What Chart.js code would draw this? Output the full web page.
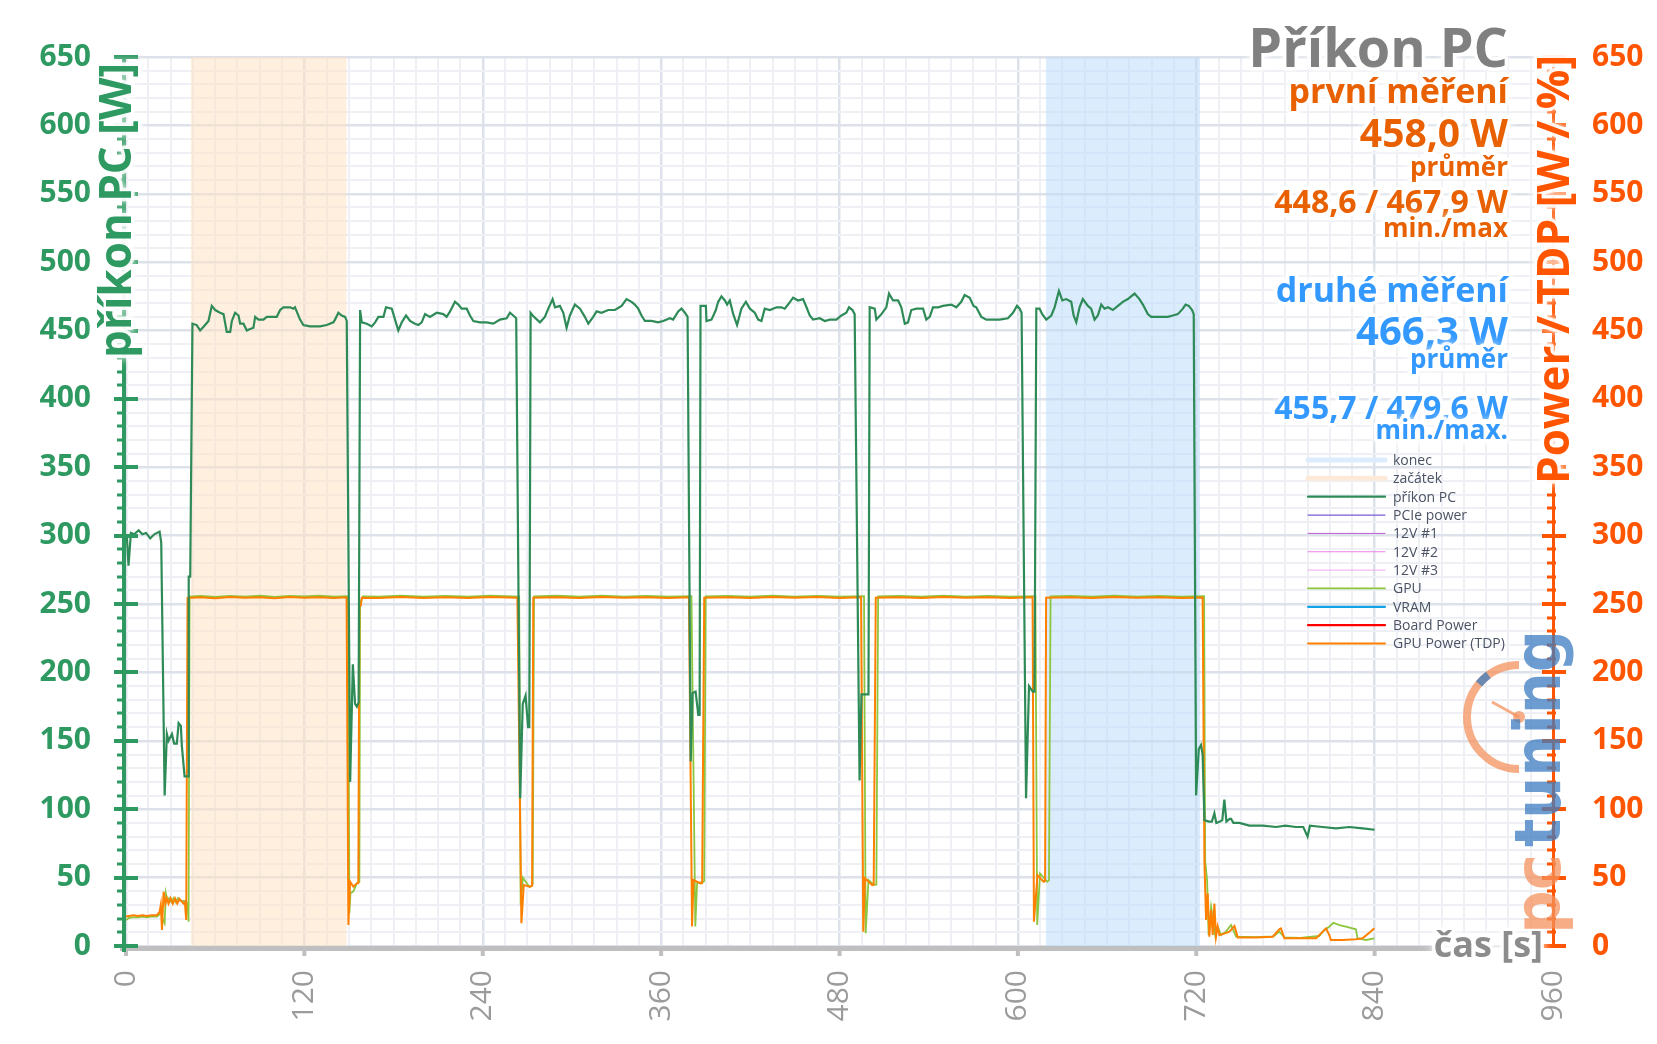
<!DOCTYPE html>
<html>
<head>
<meta charset="utf-8">
<title>Příkon PC</title>
<script src="https://cdn.jsdelivr.net/npm/chart.js@4.4.1/dist/chart.umd.min.js"></script>
<style>
  html, body { margin: 0; padding: 0; background: #fff; }
  #wrap { width: 1657px; height: 1044px; }
</style>
</head>
<body>
<div id="wrap"><canvas id="chart" width="1657" height="1044"></canvas></div>
<script>
// [time s, watts]
const pcSeries = [
  [0,300],[0.6,299],[1.7,278],[3.3,302],[5.5,301],[8.5,304],[11,301],[13.5,302],[16.3,298],[19,301],[22.6,303],[23.7,295],
  [26,110],[27.5,155],[28.6,150],[30.9,155],[32.4,148],[34.2,148],[35.4,163],[36.9,161],[37.6,146],[39.4,124],[40.5,124],[42.1,124],
  [42.2,270],[43.2,270],[44.7,455],[47.6,454],[49.9,450],[53.2,454],[55.5,457],[57.7,468],[60,465],[63.3,463],[65.6,462],
  [67.8,449],[70.1,449],[71.2,457],[73.4,463],[75.7,461],[76.8,455],[79,455],[81.3,450],[83.1,451],[85.7,452],[86.9,460],
  [89.1,458],[92.5,458],[94.7,460],[101.4,460],[103.7,465],[105.9,467],[110.4,467],[112.6,466],[113.7,467],[117.1,458],
  [119.3,454],[123.8,453],[130.6,453],[135,454],[139.5,456],[140.6,458],[142.9,463],[145.1,461],[147.4,460],[148.5,457],
  [150.8,120],[152.6,206],[154.1,177],[155.3,175],[156.5,178],[157.5,465],
  [158.6,456],[162,455],[165.3,453],[167.6,456],[169.8,460],[173.2,460],[174.9,467],[178.8,466],[181,458],[183.2,450],
  [185.5,456],[188.4,461],[191.1,457],[194.4,455],[196.7,454],[198.9,456],[201.2,462],[204.5,460],[209,463],[213.5,462],
  [215.7,460],[218,464],[221.3,471],[223.6,469],[225.8,466],[229.2,466],[231.4,461],[233.7,457],[238.1,456],[242.6,456],
  [247.1,455],[251.6,458],[256.1,459],[258.3,463],[260.5,461],[262.5,459],
  [265.2,108],[266.9,177],[268.8,183],[270.5,160],[271.3,160],[272.2,463],
  [274.4,460],[278.5,456],[281.8,460],[284.1,466],[287,473],[288.6,467],[291.9,468],[294.2,463],[296.4,452],[298.6,461],
  [302,469],[305.4,466],[308.7,460],[311,455],[314.3,460],[316.6,464],[319.9,463],[324.4,465],[328.9,465],[333.4,468],
  [336.7,473],[340.1,471],[342.3,469],[344.6,466],[346.8,461],[349.1,457],[353.5,457],[358,456],[361.4,457],[365.9,459],
  [368.1,458],[371.5,464],[373.7,466],[376,463],[377.8,460],
  [379.9,135],[381.2,185],[383.2,186],[385,169],[385.9,169],[386.5,468],
  [390.1,468],[390.5,457],[393.9,458],[396.8,465],[398.4,471],[400.6,475],[402.9,472],[404.4,469],[406.2,472],[408.5,462],
  [411.1,454],[414,466],[417,471],[419.7,466],[423,463],[425.3,458],[427.5,457],[429.7,466],[433.1,465],[435.3,466],
  [437.6,467],[440.9,467],[443.2,466],[445.4,469],[448.8,474],[452.1,472],[455.5,473],[457.8,467],[460,461],[462.2,458],
  [466.7,459],[470.1,457],[473.4,458],[477.9,458],[481.3,461],[484.6,463],[486.4,467],[488.7,465],[490.2,462],
  [493.5,121],[494.8,184],[499.5,184],[500.3,467],
  [503.7,466],[504.8,458],[508.2,462],[511.5,467],[513.3,477],[516,472],[519.4,472],[521.6,467],[523.9,455],[526.1,456],
  [528.3,465],[531.7,466],[536.2,466],[538.4,458],[540.7,460],[542.9,467],[546.3,467],[549.6,468],[555.2,469],[558.6,467],
  [561.9,471],[564.2,476],[567.6,474],[570.2,468],[572,467],[575.4,460],[578.8,458],[583.2,458],[587.7,458],[593.3,459],
  [596.7,463],[599.4,468],[601.2,466],[602.5,463],
  [605.5,108],[607.5,190],[610,186],[611.2,186],[612.4,466],
  [614.6,466],[616.4,462],[619.1,458],[622.5,461],[624.7,467],[627.6,479],[629.9,472],[632.5,473],[635.9,471],[637.5,461],
  [639.3,456],[641.5,467],[643.7,473],[647.1,468],[649.3,466],[651.6,458],[653.8,461],[656.1,469],[658.3,466],[660.6,467],
  [663.9,465],[667.3,468],[670.6,471],[674,473],[678.5,477],[681.8,473],[684.1,469],[687.4,462],[689.7,460],[695.3,460],
  [700.9,460],[704.3,461],[707.6,462],[711,466],[712.8,469],[715,468],[717.2,465],[718.3,462],
  [719.9,110],[721.7,144],[723.2,147],[724.3,140],[725.5,92],[728.5,91],[730.5,91],[732.2,97],[733.5,90],[736,91],
  [737.5,92],[738.9,107],[740.3,91],[742.5,93],[743.4,93],[745,90],[749,90],[755.7,88],[765,88],[773.7,87],
  [780,88],[787,87],[792,87],[794.9,80],[796.5,88],[805,87],[814,86],[823,87],[832,86],[840,85]
];

const gpuSeries = [
  [0,19],[2,20.5],[5,21],[8,21],[11,21.5],[14,21],[17,21.5],[20.8,21.5],[22.6,23],[23.5,27],[24.5,20],[26,16.6],
  [26.8,38.5],[27.8,33],[29,35],[30.5,32],[32,35],[33.5,32],[35,35],[36.5,33],[38.7,33],[40,33],[41.3,31],[42.1,17.8],
  [42.8,255.5],[50,256],[60,255.3],[70,256],[80,255.5],[90,256.1],[100,255.3],[110,256],[120,255.6],[130,256.1],[140,255.4],[149.4,255.8],
  [150.3,24],[151,38.5],[153,40],[155.3,46],[157,47],[157.5,250],[159.3,255.6],[170,255.4],[185,256.1],[200,255.4],
  [215,256],[230,255.5],[245,256.1],[264.5,255.5],
  [265.5,30],[267,50],[271.5,43],[273.6,45],[274.5,255.6],[290,256.1],[305,255.4],[320,256.1],[335,255.5],[350,256],[365,255.4],[380.4,255.8],
  [383,14.2],[384.2,45.8],[388.5,47],[389,47.5],[390,255.6],[405,256],[420,255.4],[435,256.1],[450,255.5],[465,256],[480,255.4],[496.5,255.8],
  [497.6,9.3],[499.5,48.2],[503.1,44.6],[504.8,45],[506,255.6],[520,256],[535,255.4],[550,256.1],[565,255.5],[580,256],[595,255.4],[611.8,255.8],
  [613,15.4],[614.9,53],[619.7,47],[620.9,48],[622,255.6],[635,256],[650,255.4],[665,256.1],[680,255.5],[695,256],[710,255.4],[725.3,255.8],
  [726,62],[727.3,48.2],[728.3,8],[730,28.7],[732.9,6.8],[734.4,14.1],[736.7,8],[740,10.5],[743.4,15.3],[746.8,6.8],
  [760,6.5],[772,7],[775.9,10.5],[779.3,6.3],[790,6],[802.7,7.3],[806.2,11.7],[809.5,14.1],[812.2,17],[816.3,15.3],
  [820.7,14.1],[827.4,12.2],[828.5,5.6],[834.2,4.4],[839.8,5.6]
];

const tdpSeries = [
  [0,21.5],[2,22],[5,22.5],[8,22],[11,22.5],[14,22],[17,22.5],[20.8,22.5],[22.6,25],[23.4,30],[24.2,11.7],[25.3,39.7],
  [26.5,31],[27.5,35],[28.6,31],[30,35],[31.5,31],[33,34.8],[34.5,31],[36,34.5],[38.7,31],[39.6,32],[40.5,19],
  [41.4,254.5],[50,255],[60,254.2],[70,255.1],[80,254.6],[90,255],[100,254.3],[110,255.2],[120,254.6],[130,255],[140,254.4],[148.4,255],
  [149.6,15.4],[150.8,47],[153,43.3],[155.3,45.8],[156.3,46],[157,249],[158,249],[158.6,254.7],[170,254.4],[185,255.2],
  [200,254.5],[215,255],[230,254.4],[245,255.1],[263.3,254.6],
  [266,16.6],[267.6,44.6],[271.7,43.4],[273.2,44],[274,254.6],[290,255],[305,254.4],[320,255.2],[335,254.6],[350,255],[365,254.5],[378.7,255],
  [380.8,14.2],[381.8,48.2],[386.6,45.8],[387.6,46],[389,254.7],[405,255],[420,254.4],[435,255.1],[450,254.6],[465,255.1],[480,254.5],[494.5,255],
  [496,10.5],[497.1,49.5],[502,44.6],[503,45],[504.4,254.6],[520,255],[535,254.5],[550,255.1],[565,254.6],[580,255],[595,254.4],[609.9,255],
  [610.8,17.8],[613.2,51.9],[617.3,47],[618.3,47.5],[619,254.6],[635,255],[650,254.4],[665,255.1],[680,254.6],[695,255],[710,254.5],[724.3,254.8],
  [725.5,62],[726.6,19],[727.7,38.5],[728.8,6.8],[730,26.3],[731.1,8],[732.2,31.1],[733.3,6.8],[734.4,14.1],[735.6,8],
  [737.8,8.7],[742.3,10.5],[745.7,14.6],[747.9,6.3],[760.2,6.3],[771.4,6.8],[775.9,12.2],[777,12.9],[779.3,5.6],[800.6,5.6],
  [803.9,9.2],[807.3,12.9],[809.5,8],[810.6,4.4],[818.5,4.4],[827.4,4.9],[831.9,5.6],[836.4,9.7],[839.8,12.9]
];

// highlighted intervals [from s, to s]
const startBand = [43.6, 148.5];
const endBand = [619, 722.5];

const xTicks = [0, 120, 240, 360, 480, 600, 720, 840, 960];
const powerTicks = [0, 50, 100, 150, 200, 250, 300, 350, 400, 450, 500, 550, 600, 650];

const legendNames = ['konec', 'začátek', 'příkon PC', 'PCIe power', '12V #1', '12V #2', '12V #3',
  'GPU', 'VRAM', 'Board Power', 'GPU Power (TDP)'];

const GREEN = '#2e9a62';
const ORANGE_AXIS = '#ff5500';
const ORANGE_TEXT = '#e86000';
const BLUE_TEXT = '#3399ff';

Chart.defaults.font.family = "'Open Sans', sans-serif";

const toPoints = s => s.map(p => ({ x: p[0], y: p[1] }));
const bandPoints = b => [{ x: b[0], y: 650 }, { x: b[1], y: 650 }];

function lineSet(label, data, color, width, order, axis) {
  return {
    label: label, data: data, borderColor: color, backgroundColor: color,
    borderWidth: width, pointRadius: 0, tension: 0, fill: false,
    order: order, yAxisID: axis || 'y', legendWidth: width
  };
}

const datasets = [
  { label: legendNames[0], data: bandPoints(endBand), borderWidth: 0, borderColor: '#ddecfc',
    backgroundColor: 'rgba(190,220,250,0.55)', fill: 'origin', pointRadius: 0, order: 30, legendWidth: 5 },
  { label: legendNames[1], data: bandPoints(startBand), borderWidth: 0, borderColor: '#fde9d8',
    backgroundColor: 'rgba(253,225,196,0.55)', fill: 'origin', pointRadius: 0, order: 30, legendWidth: 5 },
  lineSet(legendNames[2], toPoints(pcSeries), '#2e8b57', 2.2, 0),
  lineSet(legendNames[3], [], '#7b5bd6', 1.2, 5),
  lineSet(legendNames[4], [], '#c05ad6', 1, 5),
  lineSet(legendNames[5], [], '#ea80ea', 1, 5),
  lineSet(legendNames[6], [], '#f2a8f2', 1, 5),
  lineSet(legendNames[7], toPoints(gpuSeries), '#8cc63f', 1.8, 2, 'y2'),
  lineSet(legendNames[8], [], '#13a3e6', 2.2, 5),
  lineSet(legendNames[9], [], '#ff0000', 2.2, 5),
  lineSet(legendNames[10], toPoints(tdpSeries), '#ff8000', 2, 1, 'y2')
];

function gridColor(major) {
  return ctx => (ctx.tick && ctx.tick.value % major === 0) ? '#dde1e9' : '#eef0f5';
}
function gridWidth(major) {
  return ctx => (ctx.tick && ctx.tick.value % major === 0) ? 2.5 : 2;
}

function haloText(ctx, text, x, y) {
  ctx.save();
  ctx.lineJoin = 'round';
  ctx.strokeStyle = 'rgba(255,255,255,0.85)';
  ctx.lineWidth = 7;
  ctx.shadowColor = '#ffffff';
  ctx.shadowBlur = 10;
  ctx.strokeText(text, x, y);
  ctx.restore();
  ctx.fillText(text, x, y);
}

const decorations = {
  id: 'decorations',
  beforeDatasetsDraw(chart) {
    const ctx = chart.ctx, a = chart.chartArea, xs = chart.scales.x;
    ctx.save();
    ctx.fillStyle = '#bfbfbf';
    ctx.fillRect(a.left - 6, a.bottom, 1440 - a.left + 6, 5);
    xTicks.forEach(v => {
      const px = xs.getPixelForValue(v);
      if (px < 1440) ctx.fillRect(px - 2, a.bottom, 4, 10);
    });
    ctx.restore();
  },
  afterDatasetsDraw(chart) {
    const ctx = chart.ctx, a = chart.chartArea, ys = chart.scales.y;
    ctx.save();
    // left axis
    ctx.fillStyle = GREEN;
    ctx.fillRect(a.left - 4, a.top - 2, 4, a.bottom - a.top + 8);
    for (let v = 0; v <= 650; v += 10) {
      const py = Math.round(ys.getPixelForValue(v));
      if (v % 50 === 0) ctx.fillRect(a.left - 12, py - 2, 24, 4);
      else ctx.fillRect(a.left - 9, py - 1.5, 9, 3);
    }
    // right axis
    ctx.fillStyle = ORANGE_AXIS;
    ctx.fillRect(a.right - 1, a.top - 2, 3, a.bottom - a.top + 4);
    for (let v = 0; v <= 650; v += 10) {
      const py = Math.round(ys.getPixelForValue(v));
      if (v % 50 === 0) ctx.fillRect(a.right - 11, py - 2, 24, 4);
      else ctx.fillRect(a.right - 6, py - 1.5, 9, 3);
    }
    ctx.restore();
  },
  afterDraw(chart) {
    const ctx = chart.ctx;
    ctx.save();

    // axis titles
    ctx.textAlign = 'right';
    ctx.textBaseline = 'alphabetic';
    ctx.save();
    ctx.translate(131, 63);
    ctx.rotate(-Math.PI / 2);
    ctx.font = "bold 44px 'Open Sans'";
    ctx.fillStyle = GREEN;
    haloText(ctx, 'příkon PC [W]', 0, 0);
    ctx.restore();

    ctx.save();
    ctx.translate(1569, 55);
    ctx.rotate(-Math.PI / 2);
    ctx.font = "bold 44px 'Open Sans'";
    ctx.fillStyle = ORANGE_AXIS;
    haloText(ctx, 'Power / TDP [W / %]', 0, 0);
    ctx.restore();

    // x axis title
    ctx.font = "bold 36px 'Open Sans'";
    ctx.fillStyle = '#8c8c8c';
    haloText(ctx, 'čas [s]', 1543, 957);

    // summary block
    const lines = [
      ['Příkon PC', 54, '#808080', 67],
      ['první měření', 34, ORANGE_TEXT, 103],
      ['458,0 W', 39, ORANGE_TEXT, 147],
      ['průměr', 26, ORANGE_TEXT, 176],
      ['448,6 / 467,9 W', 32, ORANGE_TEXT, 213],
      ['min./max', 26, ORANGE_TEXT, 237],
      ['druhé měření', 34, BLUE_TEXT, 302],
      ['466,3 W', 40, BLUE_TEXT, 345],
      ['průměr', 26, BLUE_TEXT, 368],
      ['455,7 / 479,6 W', 32, BLUE_TEXT, 419],
      ['min./max.', 26, BLUE_TEXT, 439]
    ];
    lines.forEach(l => {
      ctx.font = 'bold ' + l[1] + "px 'Open Sans'";
      ctx.fillStyle = l[2];
      haloText(ctx, l[0], 1508, l[3]);
    });

    // legend
    ctx.textAlign = 'left';
    ctx.textBaseline = 'middle';
    ctx.font = "14px 'Open Sans'";
    chart.data.datasets.forEach((ds, i) => {
      const y = 460 + i * 18.35;
      ctx.strokeStyle = ds.borderColor;
      ctx.lineWidth = ds.legendWidth;
      ctx.lineCap = 'round';
      ctx.beginPath();
      ctx.moveTo(1308, y);
      ctx.lineTo(1385, y);
      ctx.stroke();
      ctx.fillStyle = '#4a5263';
      ctx.fillText(ds.label, 1393, y + 1);
    });

    // watermark logo
    ctx.globalAlpha = 0.75;
    ctx.lineCap = 'butt';
    ctx.strokeStyle = '#f4915c';
    ctx.lineWidth = 8;
    ctx.beginPath();
    ctx.arc(1519, 717, 52, -Math.PI / 2, Math.PI / 2, true);
    ctx.stroke();
    ctx.strokeStyle = '#3c7cc0';
    ctx.beginPath();
    ctx.arc(1519, 717, 52, -2.45, -2.2, false);
    ctx.stroke();
    ctx.strokeStyle = '#f4915c';
    ctx.lineWidth = 3;
    ctx.beginPath();
    ctx.moveTo(1519, 717);
    ctx.lineTo(1492, 702);
    ctx.stroke();
    ctx.fillStyle = '#f4915c';
    ctx.beginPath();
    ctx.arc(1519, 717, 6, 0, Math.PI * 2);
    ctx.fill();

    ctx.translate(1560, 934);
    ctx.rotate(-Math.PI / 2);
    ctx.textAlign = 'left';
    ctx.textBaseline = 'alphabetic';
    ctx.font = "bold 64px 'DejaVu Sans'";
    let w = ctx.measureText('pc').width;
    ctx.save();
    ctx.scale(80 / w, 1);
    ctx.fillStyle = '#f4915c';
    ctx.fillText('pc', 0, 0);
    ctx.restore();
    w = ctx.measureText('tuning').width;
    ctx.save();
    ctx.translate(87, 0);
    ctx.scale(217 / w, 1);
    ctx.fillStyle = '#3c7cc0';
    ctx.fillText('tuning', 0, 0);
    ctx.restore();

    ctx.restore();
  }
};

new Chart(document.getElementById('chart'), {
  type: 'line',
  data: { datasets: datasets },
  options: {
    responsive: false,
    animation: false,
    events: [],
    layout: { padding: { top: 56, left: 0, right: 0, bottom: 0 } },
    plugins: { legend: { display: false }, tooltip: { enabled: false } },
    scales: {
      x: {
        type: 'linear', min: 0, max: 960, position: 'bottom',
        afterFit: s => { s.height = 98; },
        border: { display: false },
        grid: { drawTicks: false, color: gridColor(120), lineWidth: gridWidth(120) },
        ticks: {
          stepSize: 15, autoSkip: false, minRotation: 90, maxRotation: 90, padding: 24,
          color: '#9b9b9b', font: { size: 30 },
          callback: v => xTicks.includes(v) ? String(v) : ''
        }
      },
      y: {
        position: 'left', min: 0, max: 650,
        afterFit: s => { s.width = 126; },
        border: { display: false },
        grid: { drawTicks: false, color: gridColor(50), lineWidth: gridWidth(50) },
        ticks: {
          stepSize: 10, autoSkip: false, padding: 35, color: GREEN,
          font: { size: 30, weight: 'bold' },
          callback: v => powerTicks.includes(v) ? String(v) : ''
        }
      },
      y2: {
        position: 'right', min: 0, max: 650,
        afterFit: s => { s.width = 104; },
        border: { display: false },
        grid: { drawOnChartArea: false, drawTicks: false },
        ticks: {
          stepSize: 10, autoSkip: false, padding: 39, color: ORANGE_AXIS,
          font: { size: 30, weight: 'bold' },
          callback: v => powerTicks.includes(v) ? String(v) : ''
        }
      }
    }
  },
  plugins: [decorations]
});
</script>
</body>
</html>
